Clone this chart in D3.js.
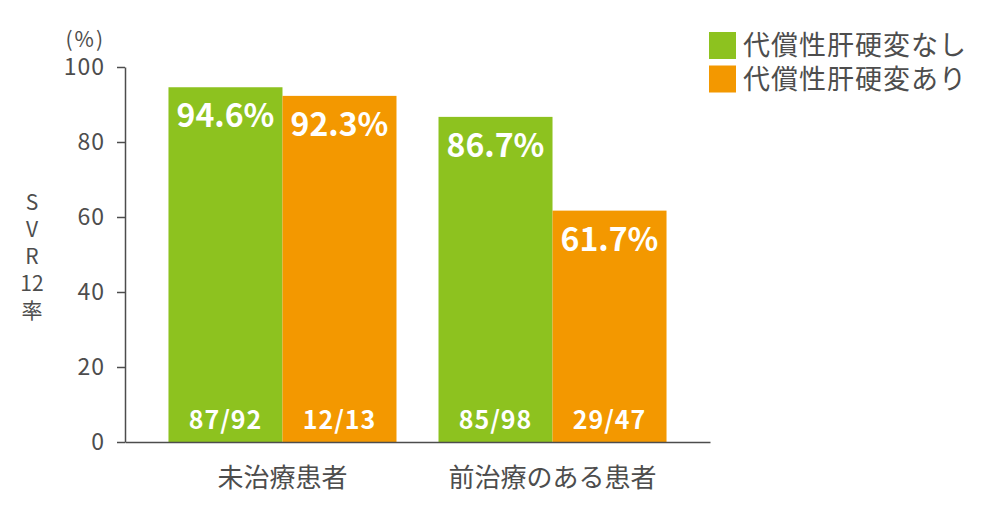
<!DOCTYPE html>
<html lang="ja">
<head>
    <meta charset="UTF-8" />
    <title>SVR12率</title>
    <script src="https://d3js.org/d3.v7.min.js"></script>
    <style>
        body {
            margin: 0;
            background: #fff;
        }
        svg text {
            font-family: "Noto Sans CJK JP", "Noto Sans", sans-serif;
        }
    </style>
</head>
<body>
<svg id="chart" width="998" height="518"></svg>
<script>
    // データ
    const groups = ["未治療患者", "前治療のある患者"];
    const series = ["代償性肝硬変なし", "代償性肝硬変あり"];
    const rates = [[94.6, 92.3], [86.7, 61.7]];
    const counts = [["87/92", "12/13"], ["85/98", "29/47"]];
    const yTicks = [0, 20, 40, 60, 80, 100];
    const yLabel = ["S", "V", "R", "12", "率"];

    const colors = ["#8dc21f", "#f39800"];
    const textColor = "#4d4d4d";

    const svg = d3.select("#chart");

    // Échelles
    const x0 = d3.scaleBand()
        .domain(groups)
        .range([125, 710])
        .paddingInner(0.1556)
        .paddingOuter(0.161);

    const x1 = d3.scaleBand()
        .domain(series)
        .range([0, x0.bandwidth()]);

    const y = d3.scaleLinear()
        .domain([0, 100])
        .range([442, 67]);

    const color = d3.scaleOrdinal().domain(series).range(colors);

    const data = groups.flatMap((g, i) => series.map((s, j) => ({
        group: g, series: s, rate: rates[i][j], count: counts[i][j]
    })));

    // Barres
    const bars = svg.append("g").selectAll("g")
        .data(data)
        .join("g")
        .attr("transform", d => `translate(${x0(d.group) + x1(d.series)},0)`);

    bars.append("rect")
        .attr("y", d => y(d.rate))
        .attr("width", x1.bandwidth())
        .attr("height", d => y(0) - y(d.rate))
        .attr("fill", d => color(d.series));

    bars.append("text")
        .attr("x", x1.bandwidth() / 2)
        .attr("y", d => y(d.rate) + 40)
        .attr("text-anchor", "middle")
        .attr("fill", "#fff")
        .attr("font-size", 32)
        .attr("font-weight", "bold")
        .text(d => d.rate.toFixed(1) + "%");

    bars.append("text")
        .attr("x", x1.bandwidth() / 2)
        .attr("y", y(0) - 13)
        .attr("text-anchor", "middle")
        .attr("fill", "#fff")
        .attr("font-size", 25)
        .attr("font-weight", "bold")
        .attr("letter-spacing", 1)
        .text(d => d.count);

    // Axe Y
    const yAxis = svg.append("g")
        .attr("transform", "translate(125,0)")
        .call(d3.axisLeft(y).tickValues(yTicks).tickSize(8).tickPadding(12).tickSizeOuter(0));
    yAxis.select(".domain").attr("stroke", textColor).attr("stroke-width", 1.5);
    yAxis.selectAll(".tick line").attr("stroke", textColor).attr("stroke-width", 1.5);
    yAxis.selectAll(".tick text")
        .attr("font-size", 23)
        .attr("letter-spacing", 1)
        .attr("fill", textColor);

    svg.append("text")
        .attr("x", 105)
        .attr("y", 47)
        .attr("text-anchor", "end")
        .attr("font-size", 21)
        .attr("letter-spacing", 2)
        .attr("fill", textColor)
        .text("(%)");

    // Axe X
    const xAxis = svg.append("g")
        .attr("transform", `translate(0,${y(0)})`)
        .call(d3.axisBottom(x0).tickSize(0).tickPadding(27));
    xAxis.select(".domain").attr("stroke", textColor).attr("stroke-width", 1.5);
    xAxis.selectAll(".tick text")
        .attr("font-size", 26)
        .attr("fill", textColor);

    // Libellé vertical
    svg.append("text")
        .attr("fill", textColor)
        .attr("font-size", 21)
        .attr("text-anchor", "middle")
        .selectAll("tspan")
        .data(yLabel)
        .join("tspan")
        .attr("x", 32)
        .attr("y", (d, i) => 210 + i * 27)
        .text(d => d);

    // Légende
    const legend = svg.append("g").attr("transform", "translate(709,32)");
    series.forEach((s, i) => {
        const g = legend.append("g").attr("transform", `translate(0,${i * 33.5})`);
        g.append("rect")
            .attr("width", 27)
            .attr("height", 27)
            .attr("fill", color(s));
        g.append("text")
            .attr("x", 34)
            .attr("y", 23)
            .attr("font-size", 27)
            .attr("letter-spacing", 1)
            .attr("fill", textColor)
            .text(s);
    });
</script>
</body>
</html>
